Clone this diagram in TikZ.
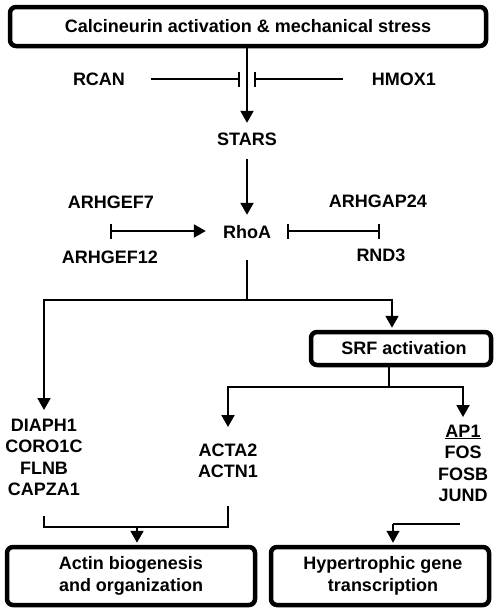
\documentclass[tikz,border=0pt]{standalone}
\usepackage{fontspec}
\setmainfont{Liberation Sans}
\usetikzlibrary{arrows.meta,calc}
\begin{document}
\begin{tikzpicture}[x=1pt,y=-1pt,
  every node/.style={font=\fontsize{18}{21.5}\selectfont\bfseries},
  lbl/.style={inner sep=0pt, text height=13pt, text depth=0pt},
  grp/.style={inner sep=0pt, align=center, anchor=north},
  box/.style={draw, line width=4.5pt, rounded corners=6pt, inner sep=0pt, align=center},
  conn/.style={line width=2pt},
  tip/.style={-{Triangle[length=12pt,width=13pt]}},
  arr/.style={conn, tip},
  inh/.style={conn, -{Bar[width=15pt]}},
  bothbar/.style={conn, {Bar[width=15pt]}-{Bar[width=15pt]}},
  thinconn/.style={line width=1.3pt},
]
\useasboundingbox (0,0) rectangle (498,613);
% nodes
\node[box, minimum width=476pt, minimum height=39pt] (top) at (248,26.5) {Calcineurin activation \& mechanical stress};
\node[lbl] (rcan) at (99,79) {RCAN};
\node[lbl] (hmox) at (404,79) {HMOX1};
\coordinate (inhL) at (240,79);
\coordinate (inhR) at (254,79);
\node[lbl] (stars) at (247,139) {STARS};
\node[lbl] (gef7) at (111,202) {ARHGEF7};
\node[lbl] (gef12) at (110,257) {ARHGEF12};
\node[lbl] (rhoa) at (247,232) {RhoA};
\node[lbl] (gap24) at (378,201) {ARHGAP24};
\node[lbl] (rnd3) at (381,255) {RND3};
\coordinate (gefbar) at (110,231);
\coordinate (rndbar) at (380,231);
\coordinate (split1) at (247,300);
\node[box, minimum width=180pt, minimum height=33pt] (srf) at (401,348.5) {\hspace*{6pt}SRF activation};
\coordinate (split2) at (389,387);
\node[grp] (diaph) at (44,418.5) {DIAPH1\\CORO1C\\FLNB\\CAPZA1};
\node[grp] (acta) at (228,443.5) {ACTA2\\ACTN1};
\node[grp] (ap1) at (463,424.5) {\underline{AP1}\\FOS\\FOSB\\JUND};
\node[box, minimum width=248pt, minimum height=58pt] (actin) at (131,576) {Actin biogenesis\\and organization};
\node[box, minimum width=218pt, minimum height=58pt] (hyp) at (380,576) {\hspace*{6pt}Hypertrophic gene\\\hspace*{6pt}transcription};
\coordinate (j1) at (137,527);
\coordinate (j2) at (393,524);
% connectors
\draw[arr, shorten >=9.5pt] (top.south -| stars.north) -- (stars.north);
\draw[inh, shorten <=26pt] (rcan.east |- inhL) -- (inhL);
\draw[inh, shorten <=29pt] (hmox.west |- inhR) -- (inhR);
\draw[arr, shorten <=13.5pt, shorten >=10.5pt] (stars.south) -- (rhoa.north);
\draw[conn, {Bar[width=15pt]}-{Triangle[length=12pt,width=13pt]}, shorten >=17pt] (gefbar) -- (rhoa.west |- gefbar);
\draw[bothbar, shorten <=16pt] (rhoa.east |- rndbar) -- (rndbar);
\draw[conn, shorten <=21.5pt] (rhoa.south) -- (split1);
\draw[arr, shorten >=8.5pt] (split1) -| (diaph.north);
\draw[arr, shorten >=2pt] (split1) -| ([xshift=-9pt]srf.north);
\draw[conn] (srf.south -| split2) -- (split2);
\draw[arr, shorten >=16.5pt] (split2) -| (acta.north);
\draw[arr, shorten >=7.5pt] (split2) -| (ap1.north);
\draw[conn, shorten <=20.5pt, shorten >=27.5pt] (diaph.south) |- (j1) -| (acta.south);
\draw[arr, shorten >=2pt] (j1) -- (actin.north -| j1);
\draw[thinconn] ([xshift=-3pt]ap1.south |- j2) -- (j2);
\draw[thinconn, tip, shorten >=2pt] (j2) -- (hyp.north -| j2);
\end{tikzpicture}
\end{document}
